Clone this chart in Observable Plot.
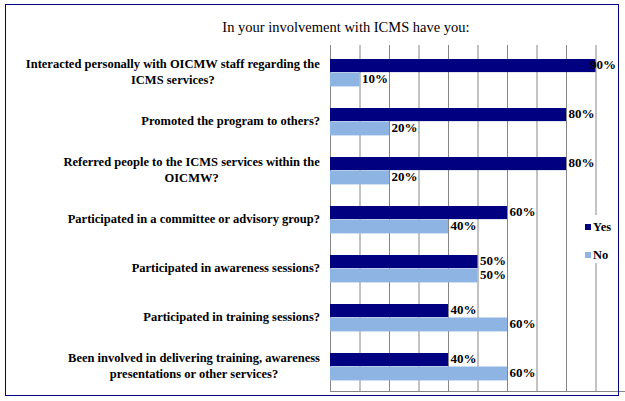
<!DOCTYPE html>
<html><head><meta charset="utf-8">
<script src="https://cdn.jsdelivr.net/npm/d3@7"></script>
<script src="https://cdn.jsdelivr.net/npm/@observablehq/plot@0.6"></script>
<style>
body{margin:0;background:#fff;}
#wrap{position:relative;width:625px;height:401px;overflow:hidden;}
#chart{position:absolute;left:0;top:0;}
#border{position:absolute;left:5px;top:4px;width:612px;height:390px;border:1px solid #000080;pointer-events:none;}
#legend{position:absolute;left:583px;top:215px;width:34px;height:48px;background:#fff;font:bold 12.5px 'Liberation Serif','Times New Roman',serif;color:#000;}
.li{position:absolute;left:2px;height:14px;line-height:14px;}
.sw{display:inline-block;width:6px;height:6px;margin-right:2px;vertical-align:1px;}
</style></head><body>
<div id="wrap"><div id="chart"></div><div id="border"></div>
<div id="legend"></div></div>
<script>
const title = "In your involvement with ICMS have you:";
const categories = [
  "Interacted personally with OICMW staff regarding the\nICMS services?",
  "Promoted the program to others?",
  "Referred people to the ICMS services within the\nOICMW?",
  "Participated in a committee or advisory group?",
  "Participated in awareness sessions?",
  "Participated in training sessions?",
  "Been involved in delivering training, awareness\npresentations or other services?"
];
const yesValues = [90, 80, 80, 60, 50, 40, 40];
const noValues  = [10, 20, 20, 40, 50, 60, 60];
const seriesNames = ["Yes", "No"];
const seriesColors = ["#000080", "#8DB4E2"];
const gridTicks = [0, 10, 20, 30, 40, 50, 60, 70, 80, 90];

const yesRows = categories.map((c, i) => ({category: c, series: "Yes", value: yesValues[i]}));
const noRows = categories.map((c, i) => ({category: c, series: "No", value: noValues[i]}));

const chart = Plot.plot({
  width: 625, height: 401,
  marginLeft: 330, marginRight: 0, marginTop: 45, marginBottom: 10,
  style: {fontFamily: "'Liberation Serif','Times New Roman',serif", fontSize: "12.5px", fontWeight: "bold", background: "transparent", overflow: "visible", color: "#000"},
  x: {domain: [0, 100], axis: null},
  y: {domain: categories, axis: null, padding: 0},
  color: {domain: seriesNames, range: seriesColors},
  marks: [
    Plot.gridX(gridTicks, {stroke: "#868686", strokeOpacity: 1, strokeWidth: 1}),
    Plot.frame({anchor: "bottom", stroke: "#868686", strokeWidth: 1}),
    Plot.barX(yesRows, {x: "value", y: "category", fill: "series", insetTop: 12, insetBottom: 23.9}),
    Plot.barX(noRows, {x: "value", y: "category", fill: "series", insetTop: 25.5, insetBottom: 9.6}),
    Plot.text(yesRows, {x: "value", y: "category", text: d => d.value + "%", textAnchor: "start", dx: 2, dy: -7, fontSize: 13, fill: "#000"}),
    Plot.text(noRows, {x: "value", y: "category", text: d => d.value + "%", textAnchor: "start", dx: 2, dy: 7, fontSize: 13, fill: "#000"}),
    Plot.text(categories, {y: d => d, text: d => d, frameAnchor: "left", textAnchor: "middle", lineAnchor: "middle", dx: -10.5, dy: -1, lineHeight: 1.3, fill: "#000"}),
    Plot.text([title], {text: d => d, frameAnchor: "top", lineAnchor: "middle", dx: -132, dy: -18, fontSize: 14.5, fontWeight: "normal", fill: "#000"})
  ]
});
document.getElementById("chart").appendChild(chart);

// right-align each label block, centering its lines within the block
const labelSet = new Set(categories.map(c => c.replace(/\n/g, "")));
chart.querySelectorAll("text").forEach(t => {
  if (labelSet.has(t.textContent)) {
    const w = t.getBBox().width;
    const tr = t.getAttribute("transform") || "";
    t.setAttribute("transform", (tr + ` translate(${-w / 2},0)`).trim());
  } else if (/%$/.test(t.textContent)) {
    // keep value labels inside the chart border, as the original does
    const r = t.getBoundingClientRect();
    const limit = 616;
    if (r.right > limit) {
      const tr = t.getAttribute("transform") || "";
      t.setAttribute("transform", (tr + ` translate(${limit - r.right},0)`).trim());
    }
  }
});

const legend = document.getElementById("legend");
seriesNames.forEach((s, i) => {
  const d = document.createElement("div");
  d.className = "li";
  d.style.top = (5 + i * 28) + "px";
  d.innerHTML = `<span class="sw" style="background:${seriesColors[i]}"></span>${s}`;
  legend.appendChild(d);
});
</script>
</body></html>
